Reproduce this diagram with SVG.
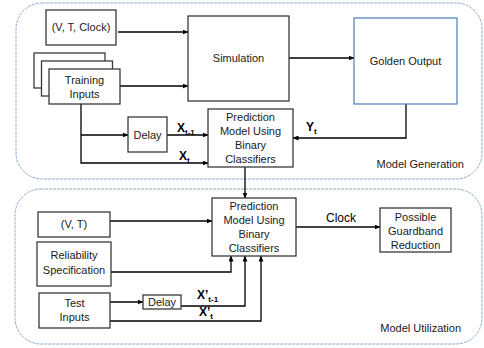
<svg xmlns="http://www.w3.org/2000/svg" width="484" height="348" viewBox="0 0 484 348">
<defs>
<marker id="arr" markerUnits="userSpaceOnUse" markerWidth="6" markerHeight="5" refX="5.5" refY="2.5" orient="auto">
<path d="M0,0 L6,2.5 L0,5 z" fill="#000"/>
</marker>
<style>
.grp{fill:none;stroke:#8DA9CF;stroke-width:1;stroke-dasharray:3 1}
.box{fill:#fff;stroke:#3a3a3a;stroke-width:1.3}
.gold{fill:#fff;stroke:#4A7EBB;stroke-width:1.2}
.t{font-family:"Liberation Sans",Arial,sans-serif;font-size:11px;fill:#1a1a1a;text-anchor:middle}
.lbl{font-family:"Liberation Sans",Arial,sans-serif;font-size:11px;fill:#1a1a1a;text-anchor:end}
.v{font-family:"Liberation Sans",Arial,sans-serif;font-weight:bold;font-size:12px;fill:#000}
.s{font-size:8px}
.c{fill:none;stroke:#000;stroke-width:1.3}
.a{marker-end:url(#arr)}
</style>
</defs>
<rect width="484" height="348" fill="#fff"/>
<g id="model-generation">
<rect class="grp" x="16" y="3" width="466" height="176" rx="26" ry="26"/>
<text class="lbl" x="464" y="168">Model Generation</text>
</g>
<g id="model-utilization">
<rect class="grp" x="15" y="189" width="467" height="155" rx="26" ry="26"/>
<text class="lbl" x="461" y="332">Model Utilization</text>
</g>
<g id="connectors">
<path class="c a" d="M118,32 H188"/>
<path class="c a" d="M120,86 H188"/>
<path class="c a" d="M289,58 H354"/>
<path class="c a" d="M81,104 V163 H208"/>
<path class="c a" d="M81,135 H128"/>
<path class="c a" d="M167,135 H208"/>
<path class="c a" d="M406,104 V138 H293"/>
<path class="c a" d="M245,167 V198"/>
<path class="c a" d="M110,221 H212"/>
<path class="c a" d="M111,272 H231 V256"/>
<path class="c a" d="M110,302 H143"/>
<path class="c a" d="M181,306 H245 V256"/>
<path class="c a" d="M110,321 H261 V256"/>
<path class="c a" d="M296,227 H380"/>
<text class="v" x="177" y="132">X<tspan class="s" dy="3">t-1</tspan></text>
<text class="v" x="179" y="160">X<tspan class="s" dy="3">t</tspan></text>
<text class="v" x="306" y="131">Y<tspan class="s" dy="3">t</tspan></text>
<text class="v" x="197" y="299">X’<tspan class="s" dy="3">t-1</tspan></text>
<text class="v" x="199" y="316">X’<tspan class="s" dy="3">t</tspan></text>
<text x="341" y="222" style="font-family:'Liberation Sans',Arial,sans-serif;font-size:12px;fill:#000;text-anchor:middle">Clock</text>
</g>
<g id="vt-clock">
<rect class="box" x="46" y="10" width="70" height="35"/>
<text class="t" x="81" y="31">(V, T, Clock)</text>
</g>
<g id="training-inputs">
<rect class="box" x="34" y="53" width="71" height="35"/>
<rect class="box" x="41.5" y="61" width="71" height="35"/>
<rect class="box" x="49" y="69" width="71" height="35"/>
<text class="t" x="84.5" y="84">Training</text>
<text class="t" x="84.5" y="98">Inputs</text>
</g>
<g id="simulation">
<rect class="box" x="188" y="16" width="101" height="85"/>
<text class="t" x="238.5" y="62">Simulation</text>
</g>
<g id="golden-output">
<rect class="gold" x="354" y="18" width="103" height="86"/>
<text class="t" x="405.5" y="65">Golden Output</text>
</g>
<g id="delay-1">
<rect class="box" x="128" y="117" width="39" height="35"/>
<text class="t" x="147.5" y="139">Delay</text>
</g>
<g id="prediction-1">
<rect class="box" x="208" y="109" width="85" height="58"/>
<text class="t" x="250.5" y="121">Prediction</text>
<text class="t" x="250.5" y="135">Model Using</text>
<text class="t" x="250.5" y="149">Binary</text>
<text class="t" x="250.5" y="163">Classifiers</text>
</g>
<g id="vt">
<rect class="box" x="38" y="212" width="72" height="25"/>
<text class="t" x="74" y="228">(V, T)</text>
</g>
<g id="reliability">
<rect class="box" x="37" y="242" width="74" height="44"/>
<text class="t" x="74" y="259">Reliability</text>
<text class="t" x="74" y="274">Specification</text>
</g>
<g id="test-inputs">
<rect class="box" x="39" y="293" width="71" height="35"/>
<text class="t" x="74.5" y="307">Test</text>
<text class="t" x="74.5" y="321">Inputs</text>
</g>
<g id="delay-2">
<rect class="box" x="143" y="295" width="38" height="14"/>
<text class="t" x="162" y="306">Delay</text>
</g>
<g id="prediction-2">
<rect class="box" x="212" y="198" width="84" height="58"/>
<text class="t" x="254" y="210">Prediction</text>
<text class="t" x="254" y="224">Model Using</text>
<text class="t" x="254" y="238">Binary</text>
<text class="t" x="254" y="252">Classifiers</text>
</g>
<g id="guardband">
<rect class="box" x="380" y="208" width="71" height="44"/>
<text class="t" x="415.5" y="221">Possible</text>
<text class="t" x="415.5" y="235">Guardband</text>
<text class="t" x="415.5" y="249">Reduction</text>
</g>
</svg>
